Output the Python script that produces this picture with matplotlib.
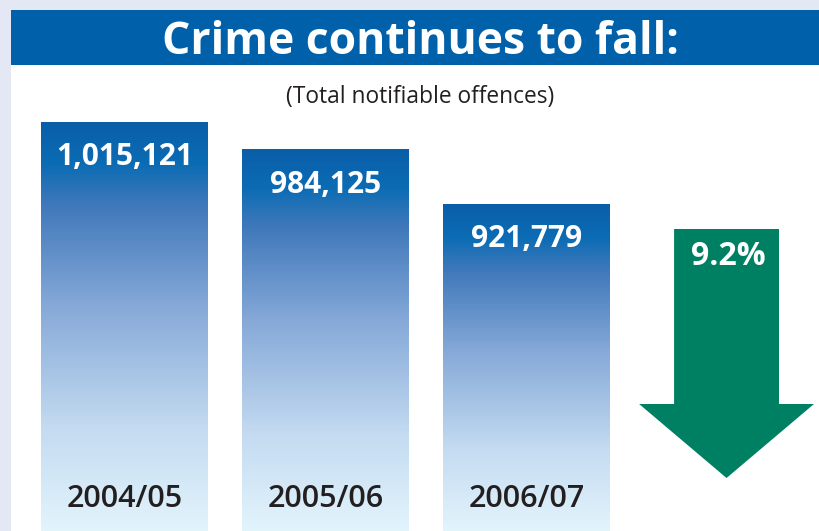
import numpy as np
import matplotlib.pyplot as plt
from matplotlib.colors import LinearSegmentedColormap
from matplotlib.patches import Rectangle, Polygon

# dados
anos = ["2004/05", "2005/06", "2006/07"]
crimes = [1015121, 984125, 921779]
queda = "9.2%"

titulo = "Crime continues to fall:"
subtitulo = "(Total notifiable offences)"

fonte = "Open Sans"
azul = "#0061aa"
verde = "#008063"

fig = plt.figure(figsize=(8.19, 5.31), dpi=100)
fig.patch.set_facecolor("#e4e7f4")

# painel branco e faixa do titulo
fig.patches.append(Rectangle((11/819, 0), 808/819, 521/531, transform=fig.transFigure,
                             facecolor="white", edgecolor="none", zorder=0))
fig.patches.append(Rectangle((11/819, 466/531), 808/819, 55/531, transform=fig.transFigure,
                             facecolor=azul, edgecolor="none", zorder=1))
fig.text(420/819, 1 - 42/531, titulo, ha="center", va="center", color="white",
         fontsize=32, fontweight="bold", family=fonte, zorder=3)

ax = fig.add_axes([11/819, 0, 808/819, 466/531])
ax.set_zorder(5)
ax.axis("off")

ax.text(0.506, 1 - 32/466, subtitulo, transform=ax.transAxes, ha="center", va="center",
        fontsize=16.4, color="#231f20", family=fonte)

# degrade das barras (escuro em cima, claro embaixo)
cmap = LinearSegmentedColormap.from_list("grad", [
    (0.0, "#e2f4fc"), (0.25, "#c4dbf1"), (0.55, "#86a9d8"),
    (0.8, "#3f78ba"), (0.9, "#0a6cb4"), (1.0, "#0b5ea8")])
grad = np.linspace(0, 1, 256).reshape(-1, 1)

largura = 0.83
y0 = 551400
for i, (ano, v) in enumerate(zip(anos, crimes)):
    ax.imshow(grad, cmap=cmap, origin="lower", aspect="auto", interpolation="bicubic",
              extent=[i - largura/2, i + largura/2, y0, v], zorder=2)
    ax.annotate(f"{v:,}", (i, v), xytext=(0, -25), textcoords="offset points",
                ha="center", va="center", color="white", fontsize=21.5,
                fontweight="bold", family=fonte, zorder=3)
    ax.text(i, 32/466, ano, transform=ax.get_xaxis_transform(), ha="center",
            va="center", fontsize=22, fontweight="semibold", color="#231f20",
            family=fonte, zorder=3)

# seta verde
xa = 3 - 0.005
haste = 0.261
cabeca = 0.435
topo, base_haste, ponta = 302/466, 127/466, 53/466
seta = Polygon([(xa - haste, topo), (xa + haste, topo), (xa + haste, base_haste),
                (xa + cabeca, base_haste), (xa, ponta), (xa - cabeca, base_haste),
                (xa - haste, base_haste)], closed=True, facecolor=verde,
               edgecolor="none", transform=ax.get_xaxis_transform(), zorder=2)
ax.add_patch(seta)
ax.text(xa + 0.01, 1 - 192/466, queda, transform=ax.get_xaxis_transform(), ha="center",
        va="center", color="white", fontsize=23, fontweight="bold", family=fonte, zorder=3)

ax.set_xlim(-0.565, 3.455)
ax.set_ylim(y0, 1080400)

fig.savefig("out.png", dpi=100, facecolor=fig.get_facecolor())
